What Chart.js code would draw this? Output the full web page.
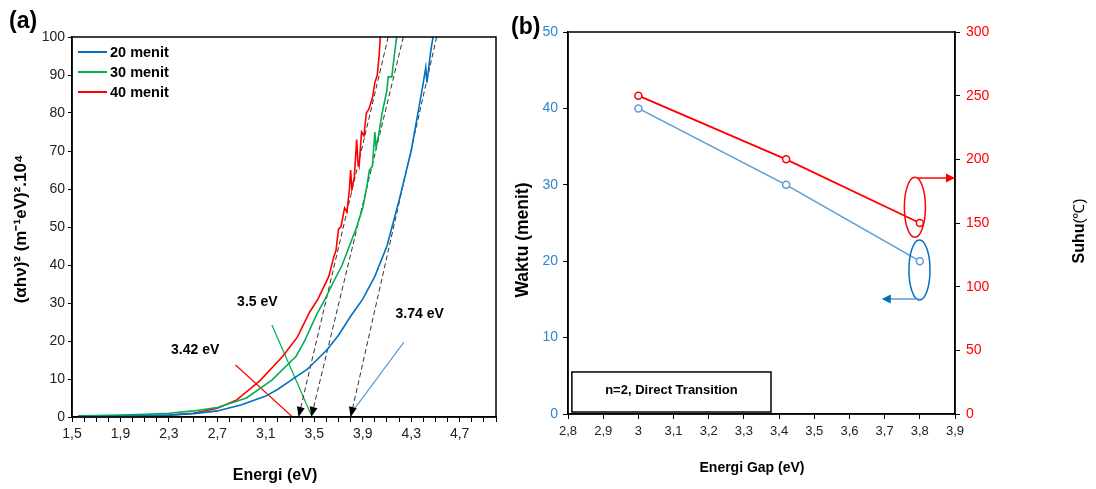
<!DOCTYPE html>
<html>
<head>
<meta charset="utf-8">
<script src="https://cdn.jsdelivr.net/npm/chart.js@4.4.1/dist/chart.umd.min.js"></script>
<style>
body { margin: 0; background: #fff; width: 1096px; height: 489px; overflow: hidden; position: relative; }
#chartA { position: absolute; left: 0; top: 0; }
#chartB { position: absolute; left: 500px; top: 0; }
</style>
</head>
<body>
<canvas id="chartA" width="500" height="489"></canvas>
<canvas id="chartB" width="596" height="489"></canvas>
<script>
// ---- data panel (a): (ahv)^2 vs energi ----
const energi20 = [1.55, 1.7, 1.9, 2.1, 2.3, 2.5, 2.7, 2.9, 3.1, 3.2, 3.3, 3.44, 3.6, 3.7, 3.8, 3.9, 4.0, 4.1, 4.2, 4.3, 4.35, 4.4, 4.42, 4.43, 4.46, 4.48];
const nilai20 = [0.1, 0.15, 0.2, 0.3, 0.5, 0.9, 1.6, 3.2, 5.5, 7.3, 9.5, 12.5, 17.5, 21.5, 26.5, 31, 37, 45, 57, 70, 79, 88, 92, 88, 96, 100];

const energi30 = [1.55, 1.7, 1.9, 2.1, 2.3, 2.5, 2.7, 2.94, 3.15, 3.35, 3.42, 3.52, 3.58, 3.65, 3.73, 3.79, 3.85, 3.88, 3.9, 3.93, 3.955, 3.98, 4.0, 4.01, 4.03, 4.06, 4.1, 4.11, 4.14, 4.16, 4.18];
const nilai30 = [0.3, 0.4, 0.5, 0.7, 1.0, 1.6, 2.5, 5, 9.7, 16, 20, 27, 30.5, 35, 40, 45, 50, 53, 55, 60, 65, 66, 75, 71, 74, 80, 86, 89.5, 89.5, 95, 100];

const energi40 = [1.55, 1.7, 1.9, 2.1, 2.3, 2.5, 2.7, 2.86, 3.05, 3.24, 3.36, 3.46, 3.53, 3.62, 3.66, 3.68, 3.7, 3.72, 3.75, 3.77, 3.79, 3.8, 3.81, 3.83, 3.85, 3.86, 3.87, 3.89, 3.91, 3.93, 3.95, 3.98, 4.0, 4.02, 4.035, 4.045];
const nilai40 = [0, 0.05, 0.1, 0.25, 0.5, 1.0, 2.3, 4.5, 9.5, 16, 21, 27.5, 31, 37, 42, 44, 49.5, 50, 55, 54, 60, 65, 60, 63, 73, 67, 66, 75, 74, 80, 81, 84, 88, 90, 95, 100];

const seriesLabels = ['20 menit', '30 menit', '40 menit'];

// garis singgung (extrapolasi) [x atas, x bawah] pada y = 100 dan y = 0
const singgungX = [[4.51, 3.80], [4.235, 3.475], [4.11, 3.37]];
const singgungY = [100, 0];

// garis penunjuk label
const penunjukX = [[4.24, 3.805], [3.15, 3.475], [2.85, 3.32]];
const penunjukY = [[19.7, 1], [24.2, 0.5], [13.7, 0]];
const gapLabels = ['3.74 eV', '3.5 eV', '3.42 eV'];

// ---- data panel (b) ----
const energiGap = [3.0, 3.42, 3.8];
const waktu = [40, 30, 20];
const suhu = [250, 200, 150];

const BLUE = '#0070C0', GREEN = '#00B050', RED = '#FF0000', LBLUE = '#5B9BD5';
const FONT = '"Liberation Sans", Arial, sans-serif';

function pts(xs, ys) { return xs.map((v, i) => ({ x: v, y: ys[i] })); }
function fmtKoma(v) { return String(Math.round(v * 10) / 10).replace('.', ','); }

function arrowHead(ctx, x0, y0, x1, y1, len, w, color) {
    const a = Math.atan2(y1 - y0, x1 - x0);
    ctx.save();
    ctx.fillStyle = color;
    ctx.translate(x1, y1);
    ctx.rotate(a);
    ctx.beginPath();
    ctx.moveTo(0, 0);
    ctx.lineTo(-len, -w / 2);
    ctx.lineTo(-len, w / 2);
    ctx.closePath();
    ctx.fill();
    ctx.restore();
}

function rotText(ctx, txt, x, y) {
    ctx.save();
    ctx.translate(x, y);
    ctx.rotate(-Math.PI / 2);
    ctx.textAlign = 'center';
    ctx.textBaseline = 'middle';
    ctx.fillText(txt, 0, 0);
    ctx.restore();
}

const colorsA = [BLUE, GREEN, RED];
const curveDatasets = [
    pts(energi20, nilai20), pts(energi30, nilai30), pts(energi40, nilai40)
].map((d, i) => ({
    label: seriesLabels[i], data: d, borderColor: colorsA[i], borderWidth: 1.6,
    pointRadius: 0, tension: 0, order: 1
}));
const singgungDatasets = singgungX.map(xs => ({
    data: pts(xs, singgungY), borderColor: '#333', borderWidth: 1, borderDash: [5, 3],
    pointRadius: 0, order: 2
}));
const penunjukColors = [LBLUE, GREEN, RED];
const penunjukDatasets = penunjukX.map((xs, i) => ({
    data: pts(xs, penunjukY[i]), borderColor: penunjukColors[i], borderWidth: 1.2,
    pointRadius: 0, order: 3
}));

const labelPos = [[4.37, 27.1], [3.03, 30.3], [2.517, 17.6]];

const pluginA = {
    id: 'pluginA',
    afterDraw(chart) {
        const { ctx, chartArea: ca, scales: { x, y } } = chart;
        ctx.save();
        // frame
        ctx.strokeStyle = '#000';
        ctx.lineWidth = 1.5;
        ctx.strokeRect(ca.left, ca.top, ca.right - ca.left, ca.bottom - ca.top);
        // arrowheads on tangent lines
        singgungX.forEach(xs => {
            arrowHead(ctx, x.getPixelForValue(xs[0]), y.getPixelForValue(singgungY[0]),
                x.getPixelForValue(xs[1]), y.getPixelForValue(singgungY[1]), 10, 8, '#000');
        });
        // gap labels
        ctx.fillStyle = '#000';
        ctx.font = 'bold 14px ' + FONT;
        ctx.textAlign = 'center';
        ctx.textBaseline = 'middle';
        gapLabels.forEach((t, i) => {
            ctx.fillText(t, x.getPixelForValue(labelPos[i][0]), y.getPixelForValue(labelPos[i][1]));
        });
        // legend
        ctx.font = 'bold 14.5px ' + FONT;
        ctx.textAlign = 'left';
        seriesLabels.forEach((t, i) => {
            const yy = 52 + i * 20;
            ctx.strokeStyle = colorsA[i];
            ctx.lineWidth = 2;
            ctx.beginPath(); ctx.moveTo(78, yy); ctx.lineTo(107, yy); ctx.stroke();
            ctx.fillText(t, 110, yy + 1);
        });
        // titles
        ctx.font = 'bold 23px ' + FONT;
        ctx.fillText('(a)', 9, 22);
        ctx.font = 'bold 16px ' + FONT;
        ctx.textAlign = 'center';
        ctx.fillText('Energi (eV)', 275, 476);
        ctx.font = 'bold 17px ' + FONT;
        rotText(ctx, '(αhν)² (m⁻¹eV)².10⁴', 21, 229);
        ctx.restore();
    }
};

const chartA = new Chart(document.getElementById('chartA'), {
    type: 'line',
    data: { datasets: [...curveDatasets, ...singgungDatasets, ...penunjukDatasets] },
    options: {
        responsive: false, animation: false, devicePixelRatio: 1,
        layout: { padding: { top: 37, right: 2, left: 0, bottom: 0 } },
        plugins: { legend: { display: false }, tooltip: { enabled: false } },
        scales: {
            x: {
                type: 'linear', min: 1.5, max: 5.0,
                afterFit: s => { s.height = 72; },
                border: { color: '#000', width: 1.5 },
                grid: { drawOnChartArea: false, color: '#000', tickLength: 5 },
                ticks: {
                    stepSize: 0.1, autoSkip: false, maxRotation: 0, padding: 4,
                    color: '#222', font: { size: 14, family: FONT },
                    callback: v => {
                        const k = Math.round(v * 10);
                        return ((k - 15) % 4 === 0 && k <= 47) ? fmtKoma(v) : '';
                    }
                }
            },
            y: {
                min: 0, max: 100,
                afterFit: s => { s.width = 72; },
                border: { color: '#000', width: 1.5 },
                grid: { drawOnChartArea: false, color: '#000', tickLength: 4 },
                ticks: { stepSize: 10, padding: 3, color: '#222', font: { size: 14, family: FONT } }
            }
        }
    },
    plugins: [pluginA]
});

// ---- panel (b) ----
const pluginB = {
    id: 'pluginB',
    afterDraw(chart) {
        const { ctx, chartArea: ca, scales: { x, y, y2 } } = chart;
        ctx.save();
        ctx.strokeStyle = '#000';
        ctx.lineWidth = 1.5;
        ctx.strokeRect(ca.left, ca.top, ca.right - ca.left, ca.bottom - ca.top);

        // ellipse merah + panah ke sumbu kanan
        const ex = x.getPixelForValue(3.786), ey = y2.getPixelForValue(162.3);
        const erx = x.getPixelForValue(3.786 + 0.03) - ex;
        ctx.strokeStyle = RED; ctx.lineWidth = 1.5;
        ctx.beginPath(); ctx.ellipse(ex, ey, erx, 30, 0, 0, Math.PI * 2); ctx.stroke();
        const ay = y2.getPixelForValue(185.3);
        ctx.beginPath(); ctx.moveTo(x.getPixelForValue(3.795), ay); ctx.lineTo(ca.right - 6, ay); ctx.stroke();
        arrowHead(ctx, ex, ay, ca.right, ay, 9, 9, RED);

        // ellipse biru + panah ke kiri
        const bx = x.getPixelForValue(3.799), by = y.getPixelForValue(18.85);
        ctx.strokeStyle = BLUE;
        ctx.beginPath(); ctx.ellipse(bx, by, erx, 30, 0, 0, Math.PI * 2); ctx.stroke();
        const by2 = y.getPixelForValue(15.05);
        const bxEnd = x.getPixelForValue(3.692);
        ctx.strokeStyle = LBLUE;
        ctx.beginPath(); ctx.moveTo(bx, by2); ctx.lineTo(bxEnd + 6, by2); ctx.stroke();
        arrowHead(ctx, bx, by2, bxEnd, by2, 9, 9, BLUE);

        // kotak keterangan
        const kx0 = x.getPixelForValue(2.811), kx1 = x.getPixelForValue(3.377);
        const ky0 = y.getPixelForValue(5.5), ky1 = y.getPixelForValue(0.26);
        ctx.strokeStyle = '#000'; ctx.lineWidth = 1.5;
        ctx.strokeRect(kx0, ky0, kx1 - kx0, ky1 - ky0);
        ctx.fillStyle = '#000';
        ctx.font = 'bold 13px ' + FONT;
        ctx.textAlign = 'center'; ctx.textBaseline = 'middle';
        ctx.fillText('n=2, Direct Transition', (kx0 + kx1) / 2, (ky0 + ky1) / 2 - 2);

        // judul
        ctx.textAlign = 'left';
        ctx.font = 'bold 23px ' + FONT;
        ctx.fillText('(b)', 11, 28);
        ctx.font = 'bold 14px ' + FONT;
        ctx.textAlign = 'center';
        ctx.fillText('Energi Gap (eV)', 252, 468);
        ctx.font = 'bold 17.5px ' + FONT;
        rotText(ctx, 'Waktu (menit)', 23, 240);
        // Suhu(℃): bagian "Suhu" tebal, "(℃)" biasa
        ctx.save();
        ctx.translate(580, 231);
        ctx.rotate(-Math.PI / 2);
        ctx.textBaseline = 'middle';
        ctx.font = 'bold 16px ' + FONT;
        const w1 = ctx.measureText('Suhu').width;
        ctx.font = '15px ' + FONT;
        const w2 = ctx.measureText('(℃)').width;
        ctx.textAlign = 'left';
        ctx.font = 'bold 16px ' + FONT;
        ctx.fillText('Suhu', -(w1 + w2) / 2, 0);
        ctx.font = '15px ' + FONT;
        ctx.fillText('(℃)', -(w1 + w2) / 2 + w1, 0);
        ctx.restore();
        ctx.restore();
    }
};

const chartB = new Chart(document.getElementById('chartB'), {
    type: 'line',
    data: {
        datasets: [
            {
                label: 'Waktu', data: pts(energiGap, waktu), yAxisID: 'y',
                borderColor: LBLUE, borderWidth: 1.5, pointRadius: 3.5,
                pointBackgroundColor: '#fff', pointBorderColor: LBLUE, pointBorderWidth: 1.5
            },
            {
                label: 'Suhu', data: pts(energiGap, suhu), yAxisID: 'y2',
                borderColor: RED, borderWidth: 1.8, pointRadius: 3.5,
                pointBackgroundColor: '#fff', pointBorderColor: RED, pointBorderWidth: 1.5
            }
        ]
    },
    options: {
        responsive: false, animation: false, devicePixelRatio: 1,
        layout: { padding: { top: 32, right: 0, left: 0, bottom: 0 } },
        plugins: { legend: { display: false }, tooltip: { enabled: false } },
        scales: {
            x: {
                type: 'linear', min: 2.8, max: 3.9,
                afterFit: s => { s.height = 75; },
                border: { color: '#000', width: 1.5 },
                grid: { drawOnChartArea: false, color: '#000', tickLength: 5 },
                ticks: {
                    stepSize: 0.1, autoSkip: false, maxRotation: 0, padding: 5,
                    color: '#222', font: { size: 13, family: FONT }, callback: v => fmtKoma(v)
                }
            },
            y: {
                position: 'left', min: 0, max: 50,
                afterFit: s => { s.width = 68; },
                border: { color: '#000', width: 1.5 },
                grid: { drawOnChartArea: false, color: '#000', tickLength: 5 },
                ticks: { stepSize: 10, padding: 5, color: '#2E86D1', font: { size: 14, family: FONT } }
            },
            y2: {
                position: 'right', min: 0, max: 300,
                afterFit: s => { s.width = 141; },
                border: { color: '#000', width: 1.5 },
                grid: { drawOnChartArea: false, color: '#000', tickLength: 5 },
                ticks: { stepSize: 50, padding: 6, color: RED, font: { size: 14, family: FONT } }
            }
        }
    },
    plugins: [pluginB]
});
</script>
</body>
</html>
